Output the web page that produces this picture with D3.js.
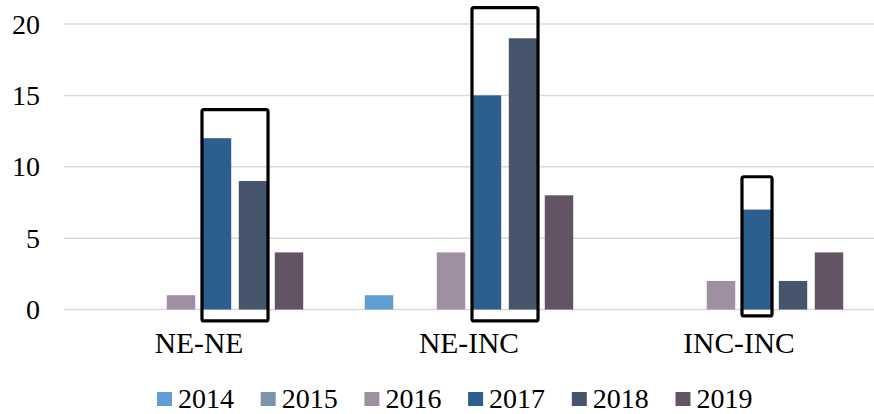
<!DOCTYPE html>
<html>
<head>
<meta charset="utf-8">
<script src="https://cdn.jsdelivr.net/npm/d3@7"></script>
<style>
  html, body { margin: 0; padding: 0; background: #fff; }
  svg { display: block; }
</style>
</head>
<body>
<svg id="chart" width="874" height="414"></svg>
<script>
// Transition categories and yearly counts
const categories = ["NE-NE", "NE-INC", "INC-INC"];
const years = ["2014", "2015", "2016", "2017", "2018", "2019"];
const values2014 = [0, 1, 0];
const values2015 = [0, 0, 0];
const values2016 = [1, 4, 2];
const values2017 = [12, 15, 7];
const values2018 = [9, 19, 2];
const values2019 = [4, 8, 4];
const yTicks = [0, 5, 10, 15, 20];
const colors = ["#5f9dd3", "#7f92ae", "#9e90a0", "#2c5f8d", "#46556b", "#625463"];

// Highlighted bar groups: category, first/last year, value extent of the frame
const highlightCategory = ["NE-NE", "NE-INC", "INC-INC"];
const highlightFrom = ["2017", "2017", "2017"];
const highlightTo = ["2018", "2018", "2017"];
const highlightTop = [14, 21.15, 9.3];
const highlightBottom = [-0.8, -0.8, -0.45];

const FONT = "Liberation Serif";

const seriesValues = [values2014, values2015, values2016, values2017, values2018, values2019];
const rows = categories.map((c, i) => ({
  category: c,
  bars: years.map((y, j) => ({ year: y, value: seriesValues[j][i], color: colors[j] }))
}));

const svg = d3.select("#chart");
const margin = { left: 64, right: 0, top: 24, bottom: 104.5 };
const W = 874, H = 414;

const x0 = d3.scaleBand().domain(categories).range([margin.left, W - margin.right]).padding(0);
const x1 = d3.scaleBand().domain(years).range([0, x0.bandwidth()])
  .paddingInner(0.21).paddingOuter(0.855);
const y = d3.scaleLinear().domain([0, 20]).range([H - margin.bottom, margin.top]);

// Gridlines
svg.append("g")
  .selectAll("line")
  .data(yTicks)
  .join("line")
  .attr("x1", margin.left)
  .attr("x2", W - margin.right)
  .attr("y1", d => y(d))
  .attr("y2", d => y(d))
  .attr("stroke", "#d9d9d9")
  .attr("stroke-width", 1.5);

// Y axis labels
svg.append("g")
  .selectAll("text")
  .data(yTicks)
  .join("text")
  .attr("x", 40)
  .attr("y", d => y(d) + 9.5)
  .attr("text-anchor", "end")
  .attr("font-size", 28)
  .style("font-family", FONT)
  .attr("fill", "#000")
  .text(d => d);

// Bars
const groups = svg.append("g")
  .selectAll("g")
  .data(rows)
  .join("g")
  .attr("transform", d => `translate(${x0(d.category)},0)`);

groups.selectAll("rect")
  .data(d => d.bars.filter(b => b.value > 0))
  .join("rect")
  .attr("x", d => x1(d.year))
  .attr("width", x1.bandwidth())
  .attr("y", d => y(d.value))
  .attr("height", d => y(0) - y(d.value))
  .attr("fill", d => d.color);

// Highlight frames
const frames = highlightCategory.map((c, i) => ({
  category: c, from: highlightFrom[i], to: highlightTo[i],
  top: highlightTop[i], bottom: highlightBottom[i]
}));
svg.append("g")
  .selectAll("rect")
  .data(frames)
  .join("rect")
  .attr("x", d => x0(d.category) + x1(d.from) - 0.8)
  .attr("width", d => x1(d.to) + x1.bandwidth() - x1(d.from) + 1.6)
  .attr("y", d => y(d.top))
  .attr("height", d => y(d.bottom) - y(d.top))
  .attr("rx", 2)
  .attr("fill", "none")
  .attr("stroke", "#000")
  .attr("stroke-width", 3.2);

// Category labels
svg.append("g")
  .selectAll("text")
  .data(categories)
  .join("text")
  .attr("x", d => x0(d) + x0.bandwidth() / 2)
  .attr("y", 353)
  .attr("text-anchor", "middle")
  .attr("font-size", 29.5)
  .style("font-family", FONT)
  .attr("fill", "#000")
  .text(d => d);

// Legend
const legend = svg.append("g")
  .selectAll("g")
  .data(years)
  .join("g")
  .attr("transform", (d, i) => `translate(${157 + i * 103.7},0)`);
legend.append("rect")
  .attr("x", 0).attr("y", 392)
  .attr("width", 15).attr("height", 14)
  .attr("fill", (d, i) => colors[i]);
legend.append("text")
  .attr("x", 21).attr("y", 408)
  .attr("font-size", 28)
  .style("font-family", FONT)
  .attr("fill", "#000")
  .text(d => d);
</script>
</body>
</html>
